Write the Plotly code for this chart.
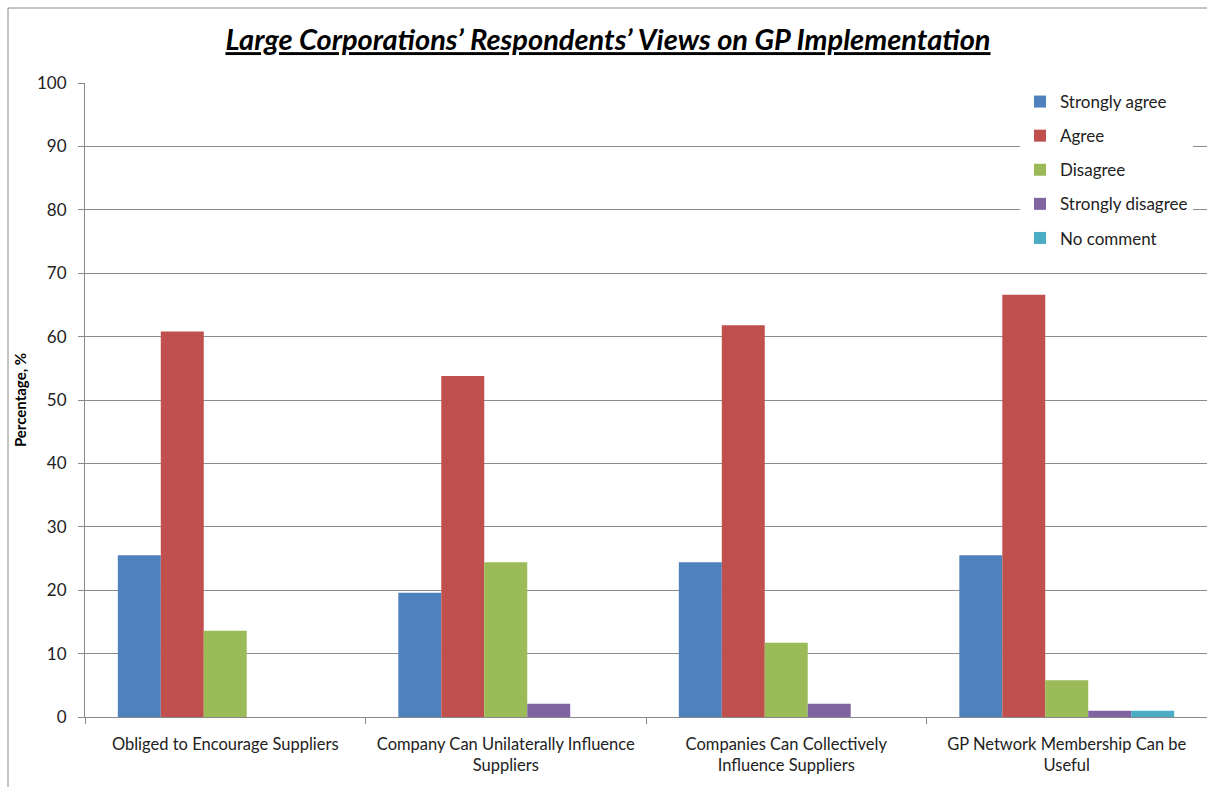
import plotly.graph_objects as go

categories = [
    "Obliged to Encourage Suppliers",
    "Company Can Unilaterally Influence<br>Suppliers",
    "Companies Can Collectively<br>Influence Suppliers",
    "GP Network Membership Can be<br>Useful",
]
strongly_agree = [25.5, 19.6, 24.4, 25.5]
agree = [60.8, 53.8, 61.8, 66.6]
disagree = [13.6, 24.4, 11.7, 5.8]
strongly_disagree = [0, 2.1, 2.1, 1.0]
no_comment = [0, 0, 0, 1.0]

series_names = ["Strongly agree", "Agree", "Disagree", "Strongly disagree", "No comment"]
series_values = [strongly_agree, agree, disagree, strongly_disagree, no_comment]
colors = ["#4F81BD", "#C0504D", "#9BBB59", "#8064A2", "#4BACC6"]

y_ticks = list(range(0, 101, 10))

FONT = "Lato"

fig = go.Figure()
for i, (name, vals, col) in enumerate(zip(series_names, series_values, colors)):
    fig.add_trace(go.Bar(
        x=categories, y=vals, name=name, marker_color=col,
        marker_line_width=0, legendgroup=name,
    ))

fig.update_layout(
    width=1207, height=787,
    margin=dict(l=85, r=0, t=83, b=70),
    paper_bgcolor="white", plot_bgcolor="white",
    barmode="group", bargap=0.234, bargroupgap=0,
    font=dict(family=FONT, size=16, color="#222222"),
    title=dict(
        text="Large Corporations’ Respondents’ Views on GP Implementation",
        x=608 / 1207, xref="container", xanchor="center",
        y=1 - 40 / 787, yref="container", yanchor="middle",
        font=dict(family=FONT, size=29, color="#000000", weight="bold",
                  style="italic", lineposition="under"),
    ),
    legend=dict(
        x=1 - 14 / 1122, y=1 - 1 / 634, xanchor="right", yanchor="top",
        bgcolor="white", font=dict(family=FONT, size=17, color="#222222"),
        tracegroupgap=9, traceorder="grouped", itemwidth=30,
    ),
    xaxis=dict(
        showgrid=False, showline=True, linecolor="#888888", linewidth=1,
        ticks="outside", tickson="boundaries", ticklen=6, tickcolor="#888888",
        tickfont=dict(family=FONT, size=16.5, color="#222222"),
        ticklabelstandoff=12,
    ),
    yaxis=dict(
        range=[0, 100], tickvals=y_ticks, showgrid=True, gridcolor="#8C8C8C",
        gridwidth=1, showline=True, linecolor="#888888", linewidth=1,
        ticks="outside", ticklen=6, tickcolor="#888888",
        tickfont=dict(family=FONT, size=17, color="#222222"),
        ticklabelstandoff=8,
        title=dict(text="<b>Percentage, %</b>", font=dict(family=FONT, size=15, color="#000000"),
                   standoff=6),
        zeroline=False,
    ),
)

# outer chart frame (left and top border)
fig.add_shape(type="line", xref="paper", yref="paper",
              x0=(8 - 85) / 1122, x1=1.01, y0=1 + (83 - 8) / 634, y1=1 + (83 - 8) / 634,
              line=dict(color="#888888", width=1))
fig.add_shape(type="line", xref="paper", yref="paper",
              x0=(8 - 85) / 1122, x1=(8 - 85) / 1122, y0=-0.2, y1=1 + (83 - 8) / 634,
              line=dict(color="#888888", width=1))

fig.write_html("out.html")
